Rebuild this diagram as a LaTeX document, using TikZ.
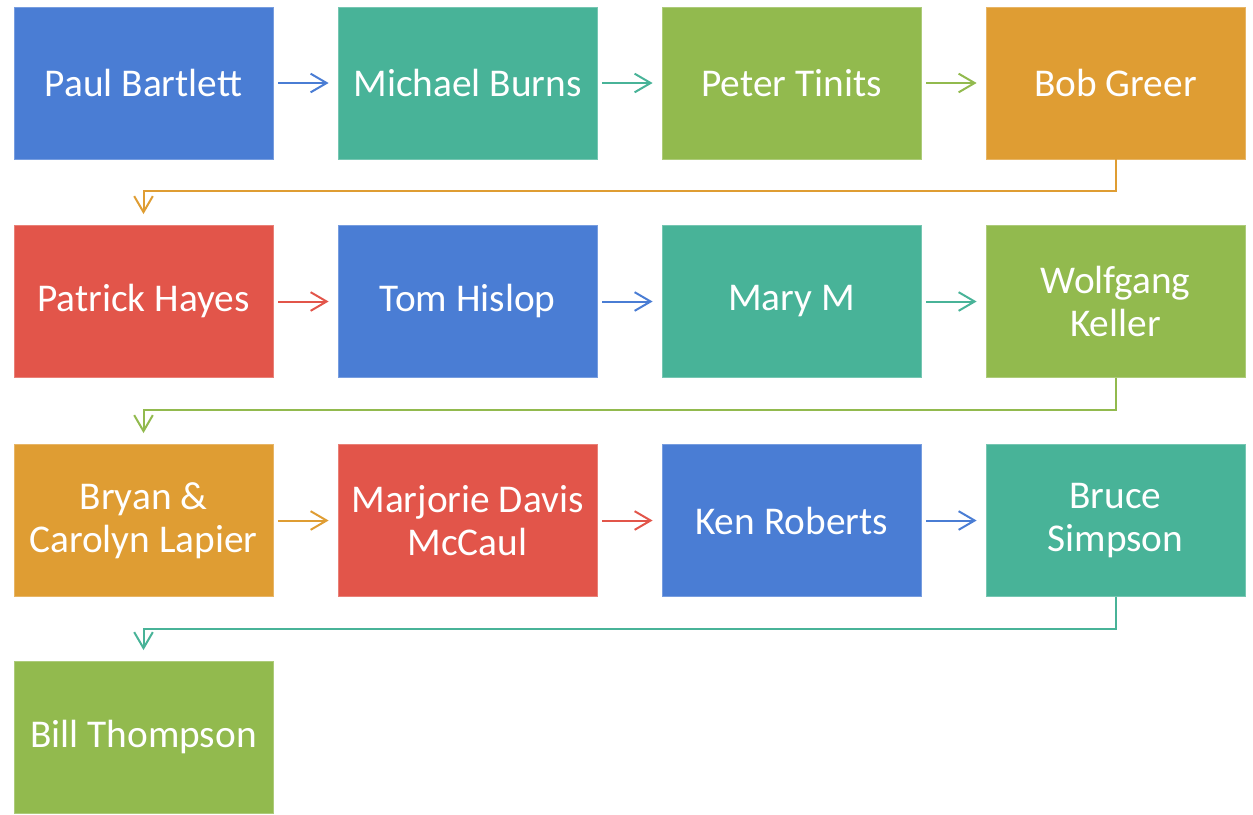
\documentclass[tikz,border=0pt]{standalone}
\usepackage{fontspec}
\setmainfont{Carlito}
\usetikzlibrary{arrows.meta}
\definecolor{cblue}{HTML}{4A7DD4}
\definecolor{cteal}{HTML}{48B398}
\definecolor{cgreen}{HTML}{92BA4E}
\definecolor{corange}{HTML}{DF9D33}
\definecolor{cred}{HTML}{E2554A}
\tikzset{
  box/.style={minimum width=259*0.75pt, minimum height=152*0.75pt, inner sep=0pt,
    fill=#1, draw=#1!75!white, line width=0.6pt, text=white, align=center,
    font=\fontsize{29.5}{32.5}\selectfont},
  link/.style={draw=#1, line width=1.5pt, -{Straight Barb[length=12pt,width=14pt,line width=1.5pt]},
    shorten <=5*0.75pt, shorten >=9*0.75pt},
  turn/.style={draw=#1, line width=1.5pt, -{Straight Barb[length=12pt,width=14pt,line width=1.5pt]},
    shorten >=11*0.75pt}
}
\begin{document}
\begin{tikzpicture}[x=0.75pt,y=-0.75pt]
\useasboundingbox (0,0) rectangle (1253,814);
\node[box=cblue]   (a) at (143.5,83) {Paul Bartlett};
\node[box=cteal]   (b) at (467.5,83) {Michael Burns};
\node[box=cgreen]  (c) at (791.5,83) {Peter Tinits};
\node[box=corange] (d) at (1115.5,83) {Bob Greer};
\node[box=cred]    (e) at (143.5,301.5) {Patrick Hayes};
\node[box=cblue]   (f) at (467.5,301.5) {Tom Hislop};
\node[box=cteal]   (g) at (791.5,301.5) {Mary M};
\node[box=cgreen]  (h) at (1115.5,301.5) {Wolfgang\\Keller};
\node[box=corange] (i) at (143.5,520.5) {Bryan \&\\Carolyn Lapier};
\node[box=cred]    (j) at (467.5,520.5) {Marjorie Davis\\McCaul};
\node[box=cblue]   (k) at (791.5,520.5) {Ken Roberts};
\node[box=cteal]   (l) at (1115.5,520.5) {Bruce\\Simpson};
\node[box=cgreen]  (m) at (143.5,737.5) {Bill Thompson};
\draw[link=cblue]  (a) -- (b);
\draw[link=cteal]  (b) -- (c);
\draw[link=cgreen] (c) -- (d);
\draw[turn=corange] (d.south) -- ++(0,32) -| (e.north);
\draw[link=cred]   (e) -- (f);
\draw[link=cblue]  (f) -- (g);
\draw[link=cteal]  (g) -- (h);
\draw[turn=cgreen] (h.south) -- ++(0,32) -| (i.north);
\draw[link=corange] (i) -- (j);
\draw[link=cred]   (j) -- (k);
\draw[link=cblue]  (k) -- (l);
\draw[turn=cteal]  (l.south) -- ++(0,32) -| (m.north);
\end{tikzpicture}
\end{document}
